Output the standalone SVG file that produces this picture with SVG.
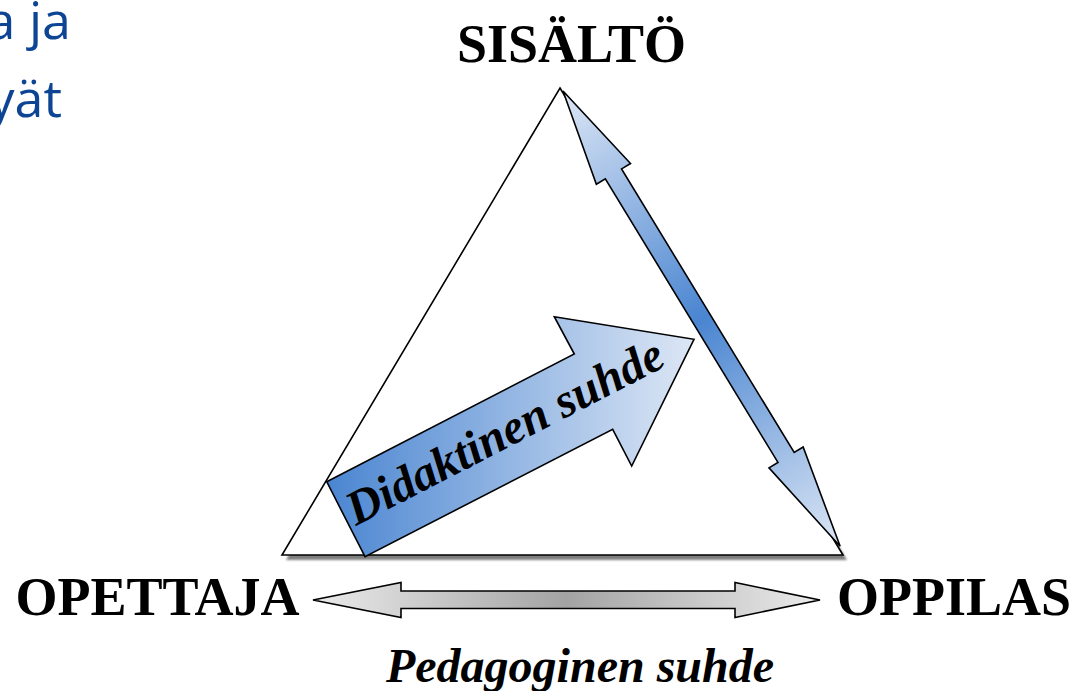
<svg xmlns="http://www.w3.org/2000/svg" width="1083" height="691" viewBox="0 0 1083 691">
  <style>
    .lbl { font-family: "Liberation Serif", "Times New Roman", serif; font-weight: bold; fill: #000; }
    .it { font-style: italic; }
    .shape { stroke: #000; stroke-width: 1.6; stroke-linejoin: miter; }
    .blue { font-family: "Open Sans", "Noto Sans", sans-serif; fill: #0d4594; font-size: 52px; }
  </style>
  <defs>
    <linearGradient id="gDid" gradientUnits="userSpaceOnUse" x1="326" y1="0" x2="694" y2="0">
      <stop offset="0" stop-color="#4a85d1"/>
      <stop offset="1" stop-color="#dde7f5"/>
    </linearGradient>
    <linearGradient id="gRight" gradientUnits="userSpaceOnUse" x1="0" y1="0" x2="533" y2="0">
      <stop offset="0" stop-color="#dde7f5"/>
      <stop offset="0.5" stop-color="#4a85d1"/>
      <stop offset="1" stop-color="#dde7f5"/>
    </linearGradient>
    <linearGradient id="gPed" gradientUnits="userSpaceOnUse" x1="313" y1="0" x2="820" y2="0">
      <stop offset="0" stop-color="#ebebeb"/>
      <stop offset="0.5" stop-color="#a3a3a3"/>
      <stop offset="1" stop-color="#ebebeb"/>
    </linearGradient>
    <filter id="blur" x="-5%" y="-5%" width="110%" height="110%">
      <feGaussianBlur stdDeviation="1"/>
    </filter>
  </defs>

  <text class="blue" x="71" y="39" text-anchor="end">a ja</text>
  <text class="blue" x="62" y="117" text-anchor="end">yät</text>

  <g id="triangle">
    <polygon points="564,93 847,560 286,560" fill="#7f7f7f" filter="url(#blur)"/>
    <polygon class="shape" points="560,88 843,555 282,555" fill="#fff"/>
  </g>

  <g id="connectors">
    <g id="didaktinen">
      <polygon class="shape" fill="url(#gDid)" points="326.7,481.7 574.3,354 554.3,316.7 694,339.3 631.7,466 612.7,429.3 365,556.7"/>
      <text class="lbl it" font-size="48" transform="translate(356,526) rotate(-27.28)">Didaktinen suhde</text>
    </g>
    <g id="sisalto-oppilas" transform="translate(563,91) rotate(58.67)">
      <polygon class="shape" fill="url(#gRight)" points="0,0 97,20 97,9.5 429,9.5 429,20 533,0 429,-20 429,-9.5 97,-9.5 97,-20"/>
    </g>
    <g id="pedagoginen">
      <polygon class="shape" fill="url(#gPed)" points="313,600 401,582.5 401,591 735,591 735,582.5 820,600 735,617.5 735,608.5 401,608.5 401,617.5"/>
      <text class="lbl it" font-size="48" x="580" y="682" text-anchor="middle">Pedagoginen suhde</text>
    </g>
  </g>

  <g id="sisalto">
    <text class="lbl" font-size="54" x="571.5" y="62" text-anchor="middle">SISÄLTÖ</text>
  </g>
  <g id="opettaja">
    <text class="lbl" font-size="54" x="157.5" y="615" text-anchor="middle">OPETTAJA</text>
  </g>
  <g id="oppilas">
    <text class="lbl" font-size="54" x="954" y="615" text-anchor="middle">OPPILAS</text>
  </g>
</svg>
